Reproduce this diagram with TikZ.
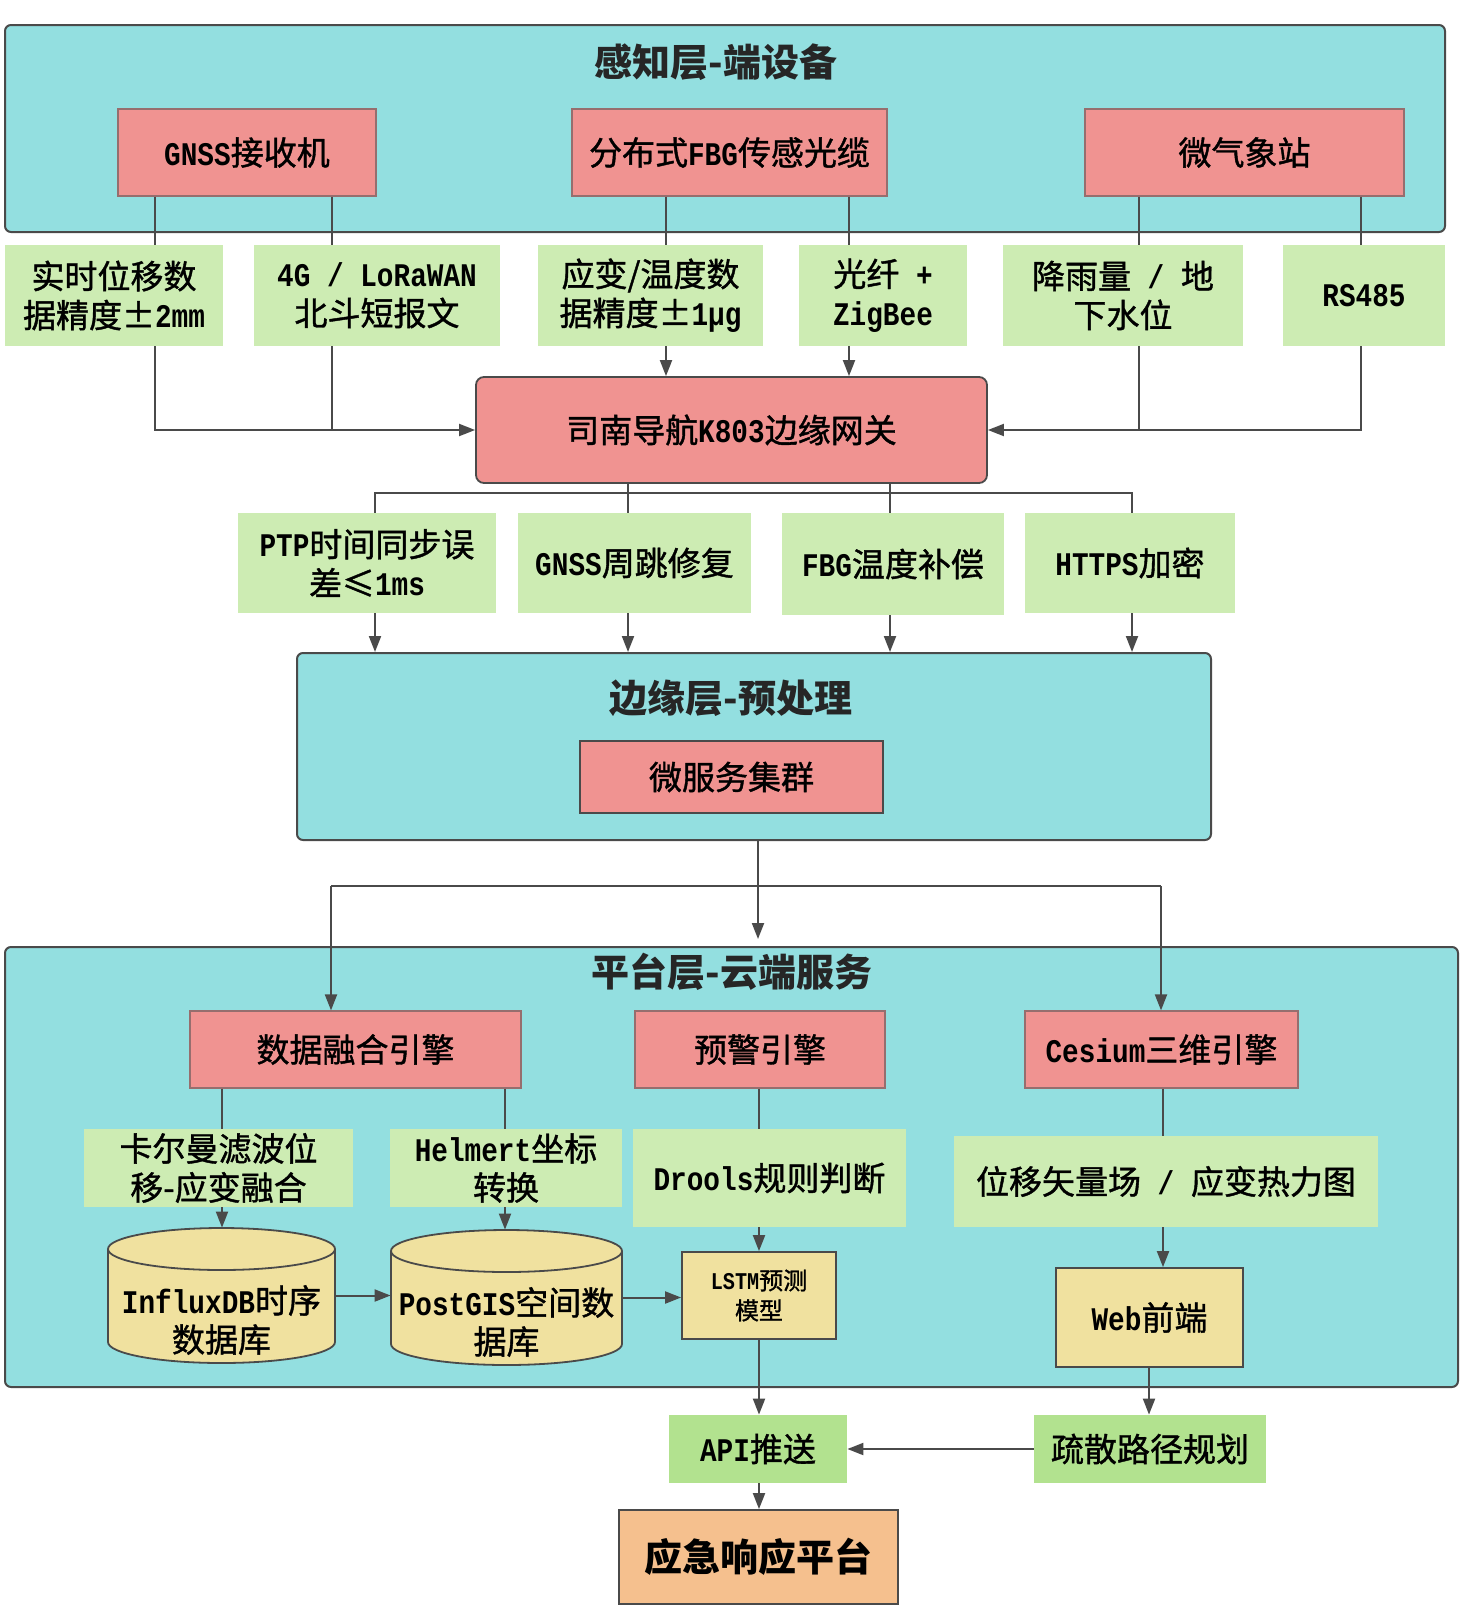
\documentclass[tikz,border=0pt]{standalone}
\usepackage{fontspec}
\setmainfont{Noto Sans CJK SC}
\newfontfamily\lblfam{Noto Sans CJK SC}[FakeBold=1.2]
\newfontfamily\monofam{Liberation Mono}[Scale=1.0, FakeStretch=0.84]
\usetikzlibrary{arrows.meta}
\definecolor{teal1}{RGB}{147,223,224}
\definecolor{pink1}{RGB}{240,147,145}
\definecolor{green1}{RGB}{205,236,179}
\definecolor{green2}{RGB}{178,226,143}
\definecolor{yellow1}{RGB}{240,225,159}
\definecolor{orange1}{RGB}{245,192,142}
\definecolor{linec}{RGB}{74,74,74}
\definecolor{pinkline}{RGB}{150,110,110}
\newcommand{\lblfont}{\lblfam\fontsize{16.5}{19.5}\selectfont}
\newcommand{\smlfont}{\lblfam\fontsize{12}{15}\selectfont}
\newcommand{\ttlfont}{\fontsize{19}{22}\selectfont\bfseries}
\newcommand{\mtx}[1]{{\monofam\bfseries #1}}
\tikzset{
  boxsize/.style 2 args={minimum width=#1pt, minimum height=#2pt},
  layerbox/.style={draw=linec, line width=1pt, fill=teal1, rounded corners=3pt, inner sep=0pt},
  pinkbox/.style={draw=pinkline, line width=0.6pt, fill=pink1, inner sep=0pt, font=\lblfont, align=center},
  gwbox/.style={draw=linec, line width=0.9pt, fill=pink1, rounded corners=4pt, inner sep=0pt, font=\lblfont, align=center},
  greenbox/.style={fill=green1, inner sep=0pt, font=\lblfont, align=center},
  greenboxb/.style={fill=green2, inner sep=0pt, font=\lblfont, align=center},
  yellowbox/.style={draw=linec, line width=0.9pt, fill=yellow1, inner sep=0pt, font=\lblfont, align=center},
  orangebox/.style={draw=linec, line width=0.9pt, fill=orange1, inner sep=0pt, font=\ttlfont, align=center},
  ttl/.style={font=\ttlfont, text=black!85},
  cylfill/.style={draw=linec, line width=0.9pt, fill=yellow1},
  anchorbox/.style={inner sep=0pt},
  conn/.style={draw=linec, line width=1pt},
  arr/.style={conn, -{Triangle[length=8pt,width=6pt]}},
}
\begin{document}
\begin{tikzpicture}[x=0.5pt,y=-0.5pt]
\useasboundingbox (0,0) rectangle (1471,1612);

% ---------- perception layer ----------
\node[layerbox, boxsize={720}{103.5}] (L1) at (725,128.5) {};
\node[ttl] (t1) at (716,62) {感知层-端设备};
\node[pinkbox, boxsize={129}{43.5}] (gnss) at (247,152.5) {\mtx{GNSS}接收机};
\node[pinkbox, boxsize={157.5}{43.5}] (fbg) at (729.5,152.5) {分布式\mtx{FBG}传感光缆};
\node[pinkbox, boxsize={159.5}{43.5}] (met) at (1244.5,152.5) {微气象站};

\node[greenbox, boxsize={109}{50.5}] (g1) at (114,295.5) {实时位移数\\据精度±\mtx{2mm}};
\node[greenbox, boxsize={123}{50.5}] (g2) at (377,295.5) {\mtx{4G / LoRaWAN}\\北斗短报文};
\node[greenbox, boxsize={112.5}{50.5}] (g3) at (650.5,295.5) {应变/温度数\\据精度±\mtx{1μg}};
\node[greenbox, boxsize={84}{50.5}] (g4) at (883,295.5) {光纤\mtx{ +}\\\mtx{ZigBee}};
\node[greenbox, boxsize={120}{50.5}] (g5) at (1123,295.5) {降雨量\mtx{ / }地\\下水位};
\node[greenbox, boxsize={81}{50.5}] (g6) at (1364,295.5) {\mtx{RS485}};

\node[gwbox, boxsize={255.5}{53}] (gw) at (731.5,430) {司南导航\mtx{K803}边缘网关};

\node[greenbox, boxsize={129}{50}] (p1) at (367,563) {\mtx{PTP}时间同步误\\差≤\mtx{1ms}};
\node[greenbox, boxsize={116.5}{50}] (p2) at (634.5,563) {\mtx{GNSS}周跳修复};
\node[greenbox, boxsize={111}{51}] (p3) at (893,564) {\mtx{FBG}温度补偿};
\node[greenbox, boxsize={105}{50}] (p4) at (1130,563) {\mtx{HTTPS}加密};

% ---------- edge layer ----------
\node[layerbox, boxsize={457}{93.5}] (edge) at (754,746.5) {};
\node[ttl] (t2) at (731,698) {边缘层-预处理};
\node[pinkbox, draw=linec, line width=0.9pt, boxsize={151.5}{36}] (micro) at (731.5,777) {微服务集群};

% ---------- platform layer ----------
\node[layerbox, boxsize={726.5}{220}] (plat) at (731.5,1167) {};
\node[ttl] (t3) at (732,972) {平台层-云端服务};
\node[pinkbox, boxsize={165.5}{38.5}] (dfe) at (355.5,1049.5) {数据融合引擎};
\node[pinkbox, boxsize={125}{38.5}] (warn) at (760,1049.5) {预警引擎};
\node[pinkbox, boxsize={136.5}{38.5}] (ces) at (1161.5,1049.5) {\mtx{Cesium}三维引擎};

\node[greenbox, boxsize={134.5}{39}] (kal) at (218.5,1168) {卡尔曼滤波位\\移-应变融合};
\node[greenbox, boxsize={116}{39}] (hel) at (506,1168) {\mtx{Helmert}坐标\\转换};
\node[greenbox, boxsize={136.5}{49}] (dro) at (769.5,1178) {\mtx{Drools}规则判断};
\node[greenbox, boxsize={212}{45.5}] (vec) at (1166,1181.5) {位移矢量场\mtx{ / }应变热力图};

% cylinders
\path[cylfill] (108,1249) -- (108,1342) arc[start angle=180, end angle=360, x radius=56.75pt, y radius=10.5pt]
  -- (335,1249) arc[start angle=0, end angle=180, x radius=56.75pt, y radius=10.5pt] -- cycle;
\draw[linec, line width=0.9pt] (108,1249) arc[start angle=180, end angle=360, x radius=56.75pt, y radius=10.5pt];
\node[anchorbox, boxsize={113.5}{67.5}] (influx) at (221.5,1295.5) {};
\node[font=\lblfont, align=center] (influxt) at (221.5,1320) {\mtx{InfluxDB}时序\\数据库};

\path[cylfill] (391,1251) -- (391,1344) arc[start angle=180, end angle=360, x radius=57.75pt, y radius=10.5pt]
  -- (622,1251) arc[start angle=0, end angle=180, x radius=57.75pt, y radius=10.5pt] -- cycle;
\draw[linec, line width=0.9pt] (391,1251) arc[start angle=180, end angle=360, x radius=57.75pt, y radius=10.5pt];
\node[anchorbox, boxsize={115.5}{67.5}] (postgis) at (506.5,1297.5) {};
\node[font=\lblfont, align=center] (postgist) at (506.5,1322) {\mtx{PostGIS}空间数\\据库};

\node[yellowbox, font=\smlfont, boxsize={77}{43.5}] (lstm) at (759,1295.5) {\mtx{LSTM}预测\\模型};
\node[yellowbox, boxsize={93.5}{49.5}] (web) at (1149.5,1317.5) {\mtx{Web}前端};

% ---------- outputs ----------
\node[greenboxb, boxsize={89}{34}] (api) at (758,1449) {\mtx{API}推送};
\node[greenboxb, boxsize={116}{34}] (evac) at (1150,1449) {疏散路径规划};
\node[orangebox, boxsize={139.5}{47}] (emer) at (758.5,1557) {应急响应平台};

% ---------- column coordinates ----------
\coordinate (cA) at (155,0);
\coordinate (cB) at (332,0);
\coordinate (cC) at (666,0);
\coordinate (cD) at (849,0);
\coordinate (cE) at (1139,0);
\coordinate (cF) at (1361,0);
\coordinate (cG) at (375,0);
\coordinate (cH) at (628,0);
\coordinate (cI) at (890,0);
\coordinate (cJ) at (1132,0);
\coordinate (busA) at (750,493);
\coordinate (cM) at (758,0);
\coordinate (busB) at (758,886);
\coordinate (cL) at (331,0);
\coordinate (cR) at (1161,0);
\coordinate (cK) at (222,0);
\coordinate (cP) at (505,0);
\coordinate (cW) at (759,0);
\coordinate (cV) at (1163,0);
\coordinate (cX) at (1149,0);

% ---------- connectors: perception -> gateway ----------
\draw[conn] (cA |- gnss.south) -- (cA |- g1.north);
\draw[conn] (cB |- gnss.south) -- (cB |- g2.north);
\draw[conn] (cC |- fbg.south) -- (cC |- g3.north);
\draw[conn] (cD |- fbg.south) -- (cD |- g4.north);
\draw[conn] (cE |- met.south) -- (cE |- g5.north);
\draw[conn] (cF |- met.south) -- (cF |- g6.north);
\draw[arr] (cA |- g1.south) |- (gw.west);
\draw[conn] (cB |- g2.south) -- (cB |- gw.west);
\draw[arr] (cC |- g3.south) -- (cC |- gw.north);
\draw[arr] (cD |- g4.south) -- (cD |- gw.north);
\draw[arr] (cF |- g6.south) |- (gw.east);
\draw[conn] (cE |- g5.south) -- (cE |- gw.east);

% ---------- gateway -> edge ----------
\draw[conn] (cG |- p1.north) |- (busA) -| (cJ |- p4.north);
\draw[conn] (cH |- gw.south) -- (cH |- p2.north);
\draw[conn] (cI |- gw.south) -- (cI |- p3.north);
\draw[arr] (cG |- p1.south) -- (cG |- edge.north);
\draw[arr] (cH |- p2.south) -- (cH |- edge.north);
\draw[arr] (cI |- p3.south) -- (cI |- edge.north);
\draw[arr] (cJ |- p4.south) -- (cJ |- edge.north);

% ---------- edge -> platform ----------
\draw[conn] (cM |- edge.south) -- (busB);
\draw[arr, shorten >=3.5pt] (busB) -- (cM |- plat.north);
\draw[conn] (cL |- busB) -- (cR |- busB);
\draw[arr] (cL |- busB) -- (cL |- dfe.north);
\draw[arr] (cR |- busB) -- (cR |- ces.north);

% ---------- platform internals ----------
\draw[conn] (cK |- dfe.south) -- (cK |- kal.north);
\draw[arr] (cK |- kal.south) -- (cK |- influx.north);
\draw[conn] (cP |- dfe.south) -- (cP |- hel.north);
\draw[arr] (cP |- hel.south) -- (cP |- postgis.north);
\draw[arr] (influx.east) -- (influx.east -| postgis.west);
\draw[arr] (postgis.east) -- (postgis.east -| lstm.west);
\draw[conn] (cW |- warn.south) -- (cW |- dro.north);
\draw[arr] (cW |- dro.south) -- (cW |- lstm.north);
\draw[arr] (cW |- lstm.south) -- (cW |- api.north);
\draw[arr] (cW |- api.south) -- (cW |- emer.north);
\draw[conn] (cV |- ces.south) -- (cV |- vec.north);
\draw[arr] (cV |- vec.south) -- (cV |- web.north);
\draw[arr] (cX |- web.south) -- (cX |- evac.north);
\draw[arr] (evac.west) -- (evac.west -| api.east);
\end{tikzpicture}
\end{document}
